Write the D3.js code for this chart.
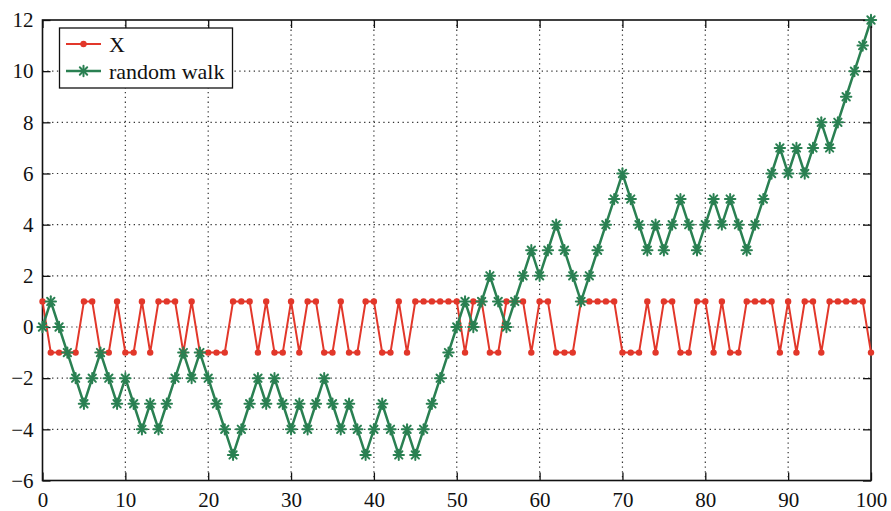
<!DOCTYPE html>
<html>
<head>
<meta charset="utf-8">
<script src="https://cdn.jsdelivr.net/npm/d3@7"></script>
<style>
  html, body { margin: 0; padding: 0; background: #fff; }
  svg { display: block; }
  svg text { font-family: "Liberation Serif", "Times New Roman", Times, "Nimbus Roman", "DejaVu Serif", serif !important; }
</style>
</head>
<body>
<svg id="chart" width="891" height="511"></svg>
<script>
// ---- data ----
const steps = d3.range(0, 101); // x values 0..100
const xSeries = [
   1,-1,-1,-1,-1, 1, 1,-1,-1, 1,
  -1,-1, 1,-1, 1, 1, 1,-1, 1,-1,
  -1,-1,-1, 1, 1, 1,-1, 1,-1,-1,
   1,-1, 1, 1,-1,-1, 1,-1,-1, 1,
   1,-1,-1, 1,-1, 1, 1, 1, 1, 1,
   1,-1, 1, 1,-1,-1, 1, 1, 1,-1,
   1, 1,-1,-1,-1, 1, 1, 1, 1, 1,
  -1,-1,-1, 1,-1, 1, 1,-1,-1, 1,
   1,-1, 1,-1,-1, 1, 1, 1, 1,-1,
   1,-1, 1, 1,-1, 1, 1, 1, 1, 1,
  -1
];
const walkSeries = [
   0, 1, 0,-1,-2,-3,-2,-1,-2,-3,
  -2,-3,-4,-3,-4,-3,-2,-1,-2,-1,
  -2,-3,-4,-5,-4,-3,-2,-3,-2,-3,
  -4,-3,-4,-3,-2,-3,-4,-3,-4,-5,
  -4,-3,-4,-5,-4,-5,-4,-3,-2,-1,
   0, 1, 0, 1, 2, 1, 0, 1, 2, 3,
   2, 3, 4, 3, 2, 1, 2, 3, 4, 5,
   6, 5, 4, 3, 4, 3, 4, 5, 4, 3,
   4, 5, 4, 5, 4, 3, 4, 5, 6, 7,
   6, 7, 6, 7, 8, 7, 8, 9,10,11,
  12
];
const xTicks = [0, 10, 20, 30, 40, 50, 60, 70, 80, 90, 100];
const yTicks = [-6, -4, -2, 0, 2, 4, 6, 8, 10, 12];
const seriesNames = ["X", "random walk"];

// ---- layout ----
const FONT = "'Liberation Serif', 'Times New Roman', Times, 'Nimbus Roman', 'DejaVu Serif', serif";
const svg = d3.select("#chart").attr("font-family", FONT);
const L = 42.5, R = 871, T = 20, B = 480.5;
const x = d3.scaleLinear().domain([0, 100]).range([L, R]);
const y = d3.scaleLinear().domain([-6, 12]).range([B, T]);

const red = "#e2372a", green = "#2a8052";

// grid
const grid = svg.append("g");
grid.selectAll(".vg").data(xTicks.slice(1, -1)).enter().append("line")
  .attr("x1", d => x(d)).attr("x2", d => x(d)).attr("y1", T).attr("y2", B)
  .attr("stroke", "#333").attr("stroke-width", 1.2).attr("stroke-dasharray", "1.3,3.5");
grid.selectAll(".hg").data(yTicks.slice(1, -1)).enter().append("line")
  .attr("x1", L).attr("x2", R).attr("y1", d => y(d)).attr("y2", d => y(d))
  .attr("stroke", "#333").attr("stroke-width", 1.2).attr("stroke-dasharray", "1.3,3.5");

// axes (ticks inside, MATLAB style)
const tk = 8;
const axB = svg.append("g").attr("transform", `translate(0,${B})`)
  .call(d3.axisBottom(x).tickValues(xTicks).tickSizeInner(-tk).tickSizeOuter(0).tickPadding(12));
const axT = svg.append("g").attr("transform", `translate(0,${T})`)
  .call(d3.axisTop(x).tickValues(xTicks).tickSizeInner(-tk).tickSizeOuter(0).tickFormat(""));
const axL = svg.append("g").attr("transform", `translate(${L},0)`)
  .call(d3.axisLeft(y).tickValues(yTicks).tickSizeInner(-tk).tickSizeOuter(0).tickPadding(9)
        .tickFormat(d => d < 0 ? "\u2212" + Math.abs(d) : d));
const axR = svg.append("g").attr("transform", `translate(${R},0)`)
  .call(d3.axisRight(y).tickValues(yTicks).tickSizeInner(-tk).tickSizeOuter(0).tickFormat(""));
[axB, axT, axL, axR].forEach(a => {
  a.attr("font-family", FONT).attr("font-size", 21);
  a.select(".domain").remove();
  a.selectAll("line").attr("stroke", "#111").attr("stroke-width", 1.3);
  a.selectAll("text").attr("fill", "#111").attr("font-family", FONT).attr("font-size", 21);
});
axB.selectAll("text").attr("dy", "0.71em");

// frame
svg.append("rect").attr("x", L).attr("y", T).attr("width", R - L).attr("height", B - T)
  .attr("fill", "none").attr("stroke", "#111").attr("stroke-width", 1.6);

// red series X
const line = d3.line().x((d, i) => x(steps[i])).y(d => y(d));
svg.append("path").datum(xSeries).attr("d", line)
  .attr("fill", "none").attr("stroke", red).attr("stroke-width", 2).attr("stroke-linejoin", "round");
svg.append("g").selectAll("circle").data(xSeries).enter().append("circle")
  .attr("cx", (d, i) => x(steps[i])).attr("cy", d => y(d)).attr("r", 3.2).attr("fill", red);

// green series random walk
svg.append("path").datum(walkSeries).attr("d", line)
  .attr("fill", "none").attr("stroke", green).attr("stroke-width", 2.5).attr("stroke-linejoin", "round");

function asterisk(g, cx, cy, r) {
  const k = r * Math.SQRT1_2;
  const segs = [[-r, 0, r, 0], [0, -r, 0, r], [-k, -k, k, k], [-k, k, k, -k]];
  segs.forEach(s => g.append("line")
    .attr("x1", cx + s[0]).attr("y1", cy + s[1]).attr("x2", cx + s[2]).attr("y2", cy + s[3])
    .attr("stroke", green).attr("stroke-width", 2).attr("stroke-linecap", "round"));
}
const starG = svg.append("g");
walkSeries.forEach((d, i) => asterisk(starG, x(steps[i]), y(d), 5.2));

// legend
const lg = svg.append("g");
lg.append("rect").attr("x", 59.5).attr("y", 28).attr("width", 173).attr("height", 60)
  .attr("fill", "#fff").attr("stroke", "#111").attr("stroke-width", 1.3);
const rowsY = [44, 71];
lg.append("line").attr("x1", 66).attr("x2", 101).attr("y1", rowsY[0]).attr("y2", rowsY[0])
  .attr("stroke", red).attr("stroke-width", 2);
lg.append("circle").attr("cx", 83.5).attr("cy", rowsY[0]).attr("r", 3.2).attr("fill", red);
lg.append("line").attr("x1", 66).attr("x2", 101).attr("y1", rowsY[1]).attr("y2", rowsY[1])
  .attr("stroke", green).attr("stroke-width", 2.5);
asterisk(lg, 83.5, rowsY[1], 5.2);
lg.selectAll("text").data(seriesNames).enter().append("text")
  .attr("x", 109).attr("y", (d, i) => rowsY[i]).attr("dy", "0.35em")
  .attr("font-family", FONT).attr("font-size", 22).attr("fill", "#111").text(d => d);
</script>
</body>
</html>
